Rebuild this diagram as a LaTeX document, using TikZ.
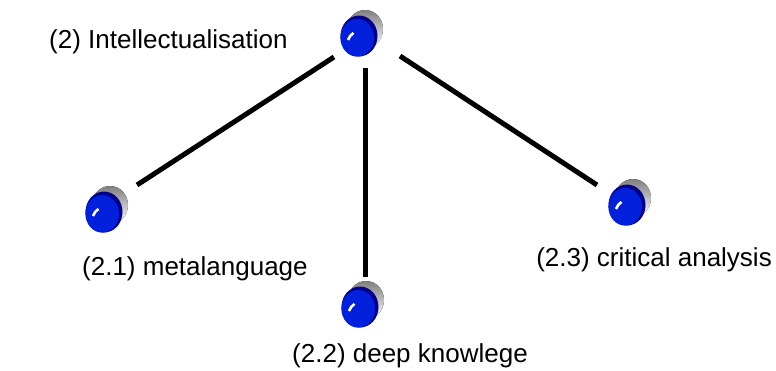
\documentclass[tikz,border=0pt]{standalone}
\usepackage{fontspec}
\setmainfont{Liberation Sans}
\definecolor{ballblue}{RGB}{0,32,220}
\definecolor{balldark}{RGB}{0,0,140}
\definecolor{shade}{RGB}{200,200,200}
\begin{document}
\begin{tikzpicture}[x=1pt,y=-1pt,
  lbl/.style={inner sep=0pt, anchor=base west, font=\fontsize{26}{30}\selectfont},
  conn/.style={line width=5pt, black},
  ball/.pic={
    \fill[shade] (6,-7) ellipse (18 and 19);
    \fill[balldark] (0,0) ellipse (18.5 and 20.5);
    \fill[ballblue] (-1.8,1.8) ellipse (16.8 and 18.8);
    \draw[white, line width=2.6pt] (-11,4) arc[start angle=200, end angle=240, x radius=12.5, y radius=13.5];
  }]
\useasboundingbox (0,0) rectangle (776,370);
\fill[white] (0,0) rectangle (776,370);
% connectors
\coordinate (t1) at (334,57);
\coordinate (l1) at (137,185);
\coordinate (t2) at (365,68);
\coordinate (b2) at (365,277);
\coordinate (t3) at (400,56);
\coordinate (r3) at (597,185);
\draw[conn] (t1) -- (l1);
\draw[conn] (t2) -- (b2);
\draw[conn] (t3) -- (r3);
% balls
\pic at (359,36) {ball};
\pic at (104,212) {ball};
\pic at (360,307) {ball};
\pic at (627,205) {ball};
% labels
\node[lbl] (n2) at (49,48) {(2) Intellectualisation};
\node[lbl] (n21) at (82,275) {(2.1) metalanguage};
\node[lbl] (n22) at (292,362) {(2.2) deep knowlege};
\node[lbl, anchor=base east] (n23) at (772,266) {(2.3) critical analysis};
\end{tikzpicture}
\end{document}
